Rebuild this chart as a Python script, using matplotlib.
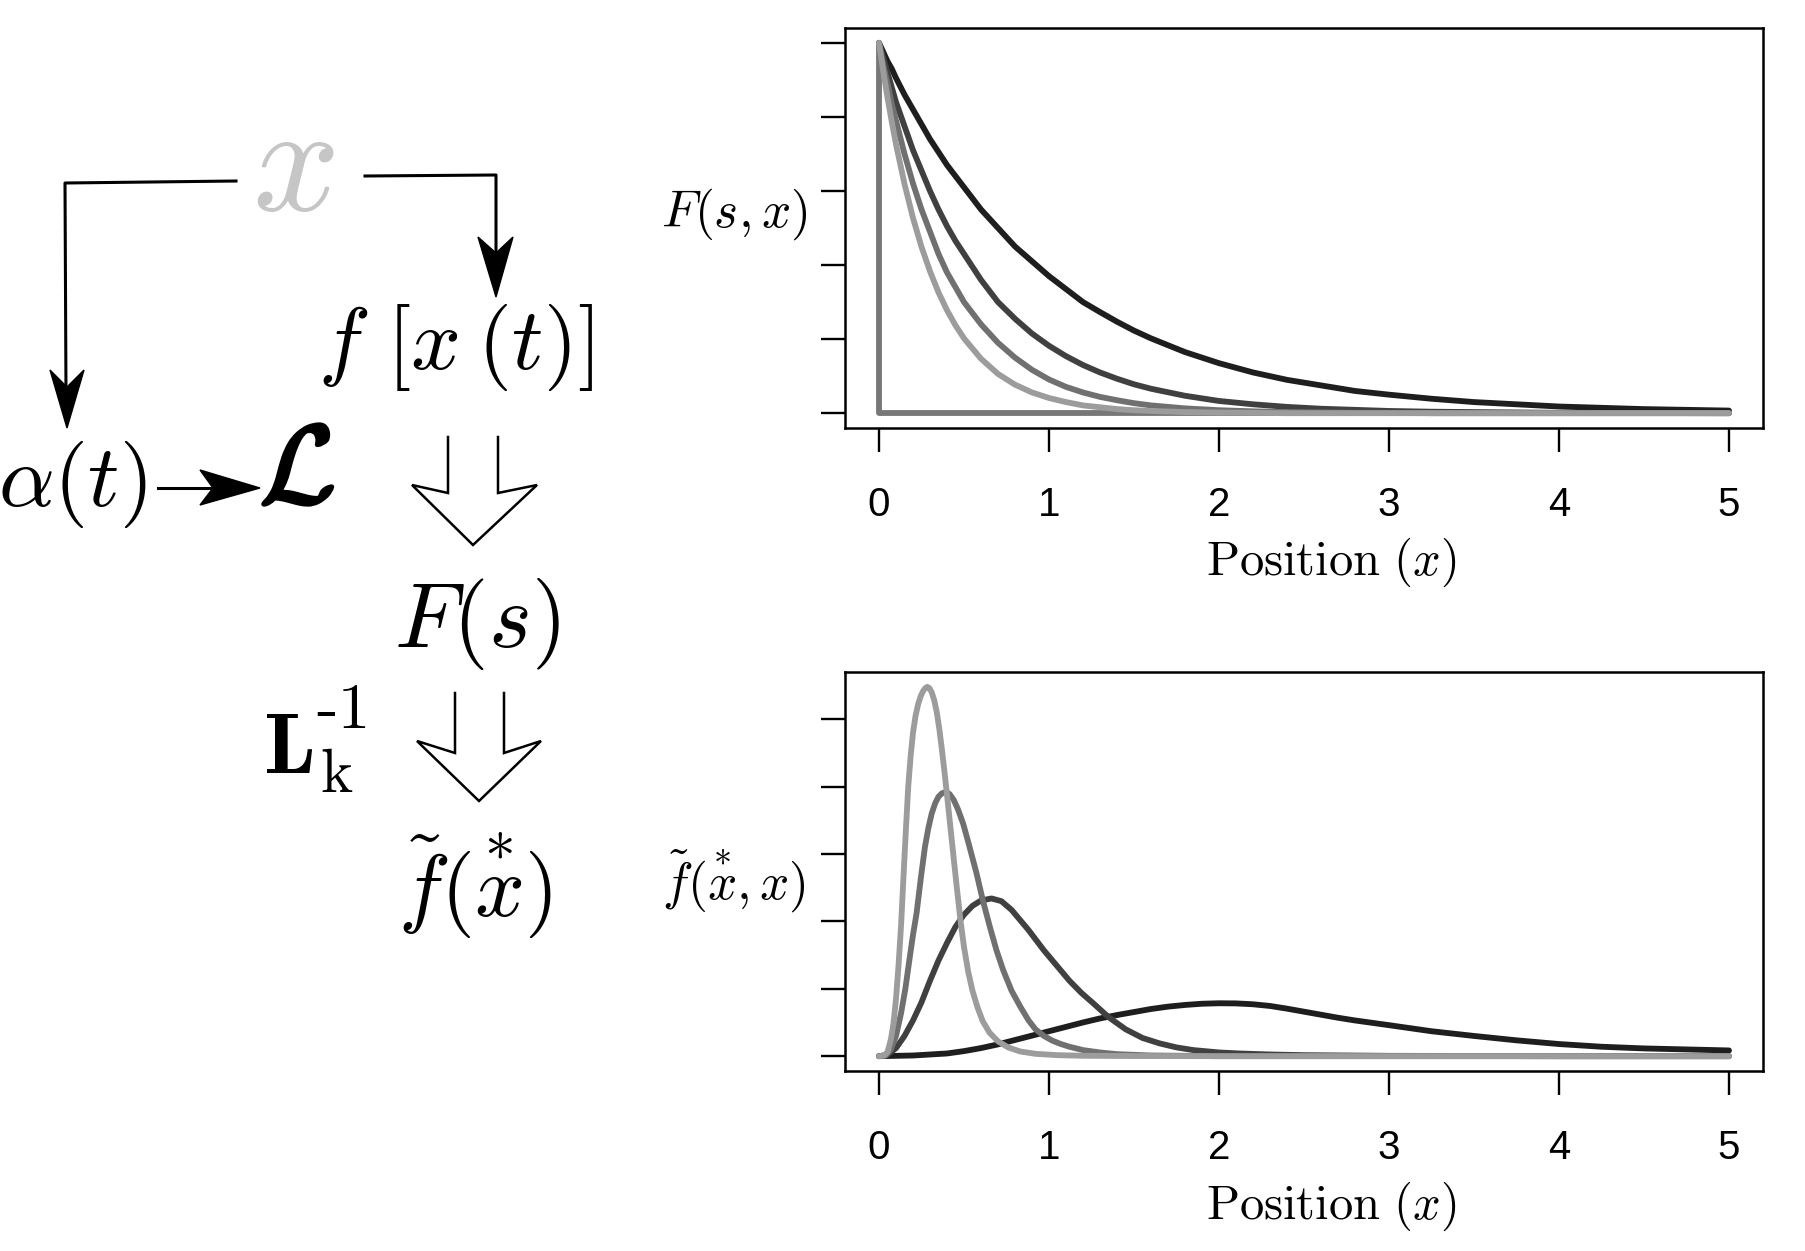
import matplotlib.pyplot as plt
from matplotlib.patches import Polygon
import matplotlib.patheffects as pe

plt.rcParams['mathtext.fontset'] = 'cm'
plt.rcParams['font.family'] = ['Liberation Sans', 'DejaVu Sans']

# ---- data ----
xticks = [0, 1, 2, 3, 4, 5]
xtick_labels = ['0', '1', '2', '3', '4', '5']
top_yticks = [0, 0.2, 0.4, 0.6, 0.8, 1.0]
bot_yticks = [0, 1, 2, 3, 4, 5]

# top panel, F(s, x)
top_x = [0, 0.025, 0.05, 0.075, 0.1, 0.15, 0.2, 0.25, 0.3, 0.35, 0.4, 0.45, 0.5, 0.6,
         0.7, 0.8, 0.9, 1.0, 1.1, 1.2, 1.3, 1.4, 1.5, 1.6, 1.8, 2.0, 2.2, 2.4, 2.6,
         2.8, 3.0, 3.25, 3.5, 3.75, 4.0, 4.5, 5.0]
top_darkest = [1.00, 0.975, 0.95, 0.93, 0.905, 0.86, 0.82, 0.78, 0.74, 0.705, 0.67, 0.64,
               0.61, 0.55, 0.50, 0.45, 0.41, 0.37, 0.335, 0.30, 0.273, 0.247, 0.223, 0.202,
               0.165, 0.135, 0.11, 0.09, 0.075, 0.06, 0.05, 0.039, 0.03, 0.024, 0.018,
               0.011, 0.007]
top_dark = [1.00, 0.96, 0.92, 0.88, 0.84, 0.775, 0.71, 0.655, 0.60, 0.55, 0.505, 0.465,
            0.43, 0.36, 0.30, 0.255, 0.215, 0.182, 0.154, 0.13, 0.11, 0.093, 0.078, 0.066,
            0.047, 0.033, 0.024, 0.017, 0.012, 0.009, 0.006, 0.004, 0.003, 0.002, 0.001,
            0.0005, 0.0]
top_mid = [1.00, 0.94, 0.89, 0.835, 0.79, 0.70, 0.62, 0.55, 0.49, 0.43, 0.38, 0.34,
           0.30, 0.24, 0.19, 0.15, 0.117, 0.091, 0.071, 0.056, 0.044, 0.035, 0.027, 0.021,
           0.013, 0.008, 0.005, 0.003, 0.002, 0.001, 0.001, 0, 0, 0, 0, 0, 0]
top_light = [1.00, 0.923, 0.852, 0.787, 0.726, 0.619, 0.527, 0.449, 0.383, 0.326, 0.278,
             0.237, 0.202, 0.147, 0.106, 0.077, 0.056, 0.041, 0.03, 0.021, 0.016, 0.011,
             0.008, 0.006, 0.003, 0.0017, 0.001, 0, 0, 0, 0, 0, 0, 0, 0, 0, 0]
top_step_x = [0, 0, 5]
top_step_y = [1, 0, 0]

# bottom panel, f~(x*, x)
bot_light_x = [0, 0.03, 0.05, 0.07, 0.085, 0.1, 0.115, 0.13, 0.143, 0.158, 0.172, 0.186,
               0.2, 0.215, 0.23, 0.245, 0.26, 0.272, 0.284, 0.297, 0.31, 0.325, 0.34,
               0.355, 0.37, 0.385, 0.4, 0.42, 0.44, 0.46, 0.48, 0.5, 0.525, 0.55, 0.58,
               0.61, 0.65, 0.7, 0.76, 0.83, 0.92, 1.05, 1.2, 1.5, 2.0, 3.0, 4.0, 5.0]
bot_light_y = [0, 0.01, 0.06, 0.25, 0.48, 0.85, 1.35, 1.95, 2.61, 3.35, 4.0, 4.45,
               4.8, 5.05, 5.22, 5.34, 5.42, 5.46, 5.48, 5.46, 5.40, 5.28, 5.1,
               4.85, 4.55, 4.22, 3.88, 3.4, 2.92, 2.45, 2.0, 1.62, 1.25, 0.97, 0.72,
               0.52, 0.35, 0.22, 0.13, 0.07, 0.035, 0.015, 0.006, 0.002, 0, 0, 0, 0]

bot_mid_x = [0, 0.04, 0.07, 0.1, 0.13, 0.155, 0.18, 0.2, 0.221, 0.245, 0.27, 0.29, 0.31,
             0.33, 0.35, 0.37, 0.393, 0.415, 0.44, 0.465, 0.495, 0.53, 0.574, 0.61, 0.652,
             0.69, 0.73, 0.78, 0.83, 0.88, 0.92, 0.97, 1.02, 1.07, 1.12, 1.2, 1.3, 1.4,
             1.6, 2.0, 3.0, 4.0, 5.0]
bot_mid_y = [0, 0.01, 0.1, 0.3, 0.64, 1.0, 1.45, 1.8, 2.12, 2.62, 3.1, 3.38, 3.6,
             3.75, 3.85, 3.9, 3.92, 3.89, 3.8, 3.66, 3.45, 3.13, 2.71, 2.32, 1.92,
             1.58, 1.28, 0.97, 0.74, 0.53, 0.40, 0.30, 0.23, 0.18, 0.14, 0.09, 0.055, 0.03,
             0.01, 0, 0, 0, 0]

bot_dark_x = [0, 0.05, 0.1, 0.15, 0.2, 0.25, 0.3, 0.35, 0.4, 0.45, 0.5, 0.55, 0.6, 0.662,
              0.72, 0.78, 0.83, 0.88, 0.925, 0.97, 1.02, 1.07, 1.12, 1.19, 1.258, 1.35,
              1.45, 1.55, 1.65, 1.75, 1.85, 2.0, 2.12, 2.3, 2.5, 3.0, 4.0, 5.0]
bot_dark_y = [0, 0.02, 0.12, 0.3, 0.53, 0.8, 1.12, 1.42, 1.68, 1.92, 2.1, 2.23, 2.31, 2.34,
              2.3, 2.17, 2.02, 1.87, 1.72, 1.57, 1.42, 1.27, 1.12, 0.94, 0.79, 0.58,
              0.40, 0.27, 0.19, 0.13, 0.09, 0.055, 0.04, 0.025, 0.015, 0.005, 0, 0]

bot_darkest_x = [0, 0.2, 0.4, 0.5, 0.6, 0.7, 0.8, 0.9, 1.0, 1.1, 1.2, 1.3, 1.4, 1.5, 1.6,
                 1.7, 1.8, 1.9, 2.0, 2.1, 2.2, 2.3, 2.4, 2.5, 2.6, 2.7, 2.8, 2.9, 3.0,
                 3.25, 3.5, 3.75, 4.0, 4.25, 4.5, 4.75, 5.0]
bot_darkest_y = [0, 0.01, 0.04, 0.075, 0.12, 0.175, 0.24, 0.305, 0.37, 0.435, 0.5, 0.56,
                 0.61, 0.655, 0.70, 0.735, 0.76, 0.778, 0.785, 0.783, 0.77, 0.745, 0.705,
                 0.66, 0.615, 0.57, 0.53, 0.495, 0.46, 0.37, 0.30, 0.235, 0.18, 0.14,
                 0.115, 0.10, 0.085]

C_DARKEST, C_DARK, C_MID, C_LIGHT = '#1e1e1e', '#404040', '#707070', '#9c9c9c'

W, H = 1806, 1251
fig = plt.figure(figsize=(W / 100, H / 100), dpi=100)


def px_axes(l, t, r, b):
    return fig.add_axes([l / W, 1 - b / H, (r - l) / W, (b - t) / H])


# overlay in pixel coordinates for the diagram on the left
ov = fig.add_axes([0, 0, 1, 1])
ov.set_xlim(0, W)
ov.set_ylim(H, 0)
ov.axis('off')


def style(ax, yticks, ylim):
    ax.set_xlim(-0.2, 5.2)
    ax.set_ylim(*ylim)
    ax.set_xticks(xticks)
    ax.set_xticklabels(xtick_labels, fontsize=29)
    ax.set_yticks(yticks)
    ax.set_yticklabels([])
    ax.tick_params(direction='out', length=17.5, width=1.7, pad=24)
    for sp in ax.spines.values():
        sp.set_linewidth(1.8)


kw = dict(lw=4.2, solid_capstyle='round', solid_joinstyle='round')

# top panel
ax1 = px_axes(845, 28, 1763, 428)
ax1.plot(top_x, top_darkest, color=C_DARKEST, **kw)
ax1.plot(top_x, top_dark, color=C_DARK, **kw)
ax1.plot(top_step_x, top_step_y, color='#777777', **kw)
ax1.plot(top_x, top_mid, color=C_MID, **kw)
ax1.plot(top_x, top_light, color=C_LIGHT, **kw)
style(ax1, top_yticks, (-0.04, 1.04))

# bottom panel
ax2 = px_axes(845, 672, 1763, 1071)
ax2.plot(bot_darkest_x, bot_darkest_y, color=C_DARKEST, **kw)
ax2.plot(bot_dark_x, bot_dark_y, color=C_DARK, **kw)
ax2.plot(bot_mid_x, bot_mid_y, color=C_MID, **kw)
ax2.plot(bot_light_x, bot_light_y, color=C_LIGHT, **kw)
style(ax2, bot_yticks, (-0.22, 5.70))

# axis labels
ov.text(1331, 562, r'$\mathrm{Position}\ (x)$', fontsize=35, ha='center', va='center')
ov.text(1331, 1206, r'$\mathrm{Position}\ (x)$', fontsize=35, ha='center', va='center')
ov.text(808, 214, r'$F(s,x)$', fontsize=37, ha='right', va='center')
ov.text(806, 881, r'$\tilde{f}(\overset{*}{x},x)$', fontsize=37, ha='right', va='center')

# ---- diagram ----
ov.text(293, 171, r'$x$', fontsize=110, color='#c6c6c6', ha='center', va='center')
ov.text(455, 347, r'$f\ [x\:(t)]$', fontsize=63, ha='center', va='center')
ov.text(-2, 484, r'$\alpha(t)$', fontsize=63, ha='left', va='center')
ov.text(297, 474, r'$\mathcal{L}$', fontsize=80, ha='center', va='center',
        path_effects=[pe.withStroke(linewidth=2.5, foreground='k')])
ov.text(477, 624, r'$F(s)$', fontsize=66, ha='center', va='center')
ov.text(263, 773, r'$\mathbf{L}$', fontsize=62, ha='left', va='baseline')
ov.text(320, 792, r'$\mathrm{k}$', fontsize=44, ha='left', va='baseline')
ov.text(316, 728, '-1', fontsize=47, family='cmr10', ha='left', va='baseline')
ov.text(475, 885, r'$\tilde{f}(\overset{*}{x})$', fontsize=63, ha='center', va='center')

# connectors from x
ov.plot([236, 65, 66], [181, 183, 395], color='k', lw=2.2)
ov.add_patch(Polygon([(67, 428), (50, 370), (67, 387), (84, 370)], closed=True, color='k'))
ov.plot([365, 496, 496], [176, 175, 265], color='k', lw=2.2)
ov.add_patch(Polygon([(496, 297), (478, 237), (496, 253), (513, 237)], closed=True, color='k'))
# alpha -> L
ov.plot([158, 215], [488, 488], color='k', lw=2.2)
ov.add_patch(Polygon([(260, 488), (200, 470), (213, 488), (200, 505)], closed=True, color='k'))

# hollow arrows
ov.plot([448, 448, 412, 473, 537, 498, 498], [437, 493, 485, 545, 485, 493, 437],
        color='k', lw=1.8, solid_joinstyle='miter')
ov.plot([455, 455, 417, 479, 541, 504, 504], [693, 753, 741, 801, 741, 753, 693],
        color='k', lw=1.8, solid_joinstyle='miter')

fig.savefig('out.png', dpi=100, facecolor='white')
